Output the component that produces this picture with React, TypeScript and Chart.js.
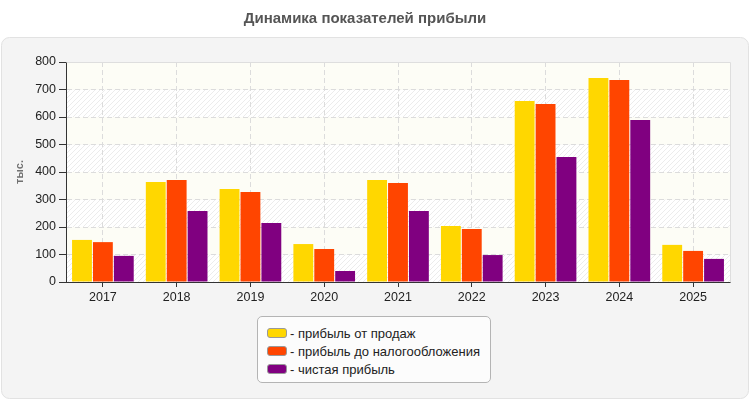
import React, { useEffect, useRef } from "react";
import { Chart, registerables } from "chart.js";

Chart.register(...registerables);

const categories = ["2017", "2018", "2019", "2020", "2021", "2022", "2023", "2024", "2025"];
const salesProfit = [153, 364, 338, 138, 371, 204, 658, 742, 135];
const preTaxProfit = [145, 371, 327, 120, 360, 193, 647, 735, 113];
const netProfit = [95, 258, 215, 40, 258, 98, 455, 589, 84];
const seriesLabels = ["- прибыль от продаж", "- прибыль до налогообложения", "- чистая прибыль"];
const seriesColors = ["#FFD700", "#FF4500", "#800080"];
const yTickValues = [0, 100, 200, 300, 400, 500, 600, 700, 800];
const chartTitle = "Динамика показателей прибыли";
const yAxisTitle = "тыс.";

const FONT = "Arial, 'Liberation Sans', sans-serif";

function makePattern(ctx: CanvasRenderingContext2D) {
  const c = document.createElement("canvas");
  const s = 5;
  c.width = s;
  c.height = s;
  const p = c.getContext("2d")!;
  p.fillStyle = "#ffffff";
  p.fillRect(0, 0, s, s);
  p.strokeStyle = "#ececec";
  p.lineWidth = 1;
  p.beginPath();
  p.moveTo(0, s);
  p.lineTo(s, 0);
  p.moveTo(-1, 1);
  p.lineTo(1, -1);
  p.moveTo(s - 1, s + 1);
  p.lineTo(s + 1, s - 1);
  p.stroke();
  return ctx.createPattern(c, "repeat")!;
}

function roundRect(ctx: CanvasRenderingContext2D, x: number, y: number, w: number, h: number, r: number) {
  ctx.beginPath();
  ctx.moveTo(x + r, y);
  ctx.lineTo(x + w - r, y);
  ctx.arcTo(x + w, y, x + w, y + r, r);
  ctx.lineTo(x + w, y + h - r);
  ctx.arcTo(x + w, y + h, x + w - r, y + h, r);
  ctx.lineTo(x + r, y + h);
  ctx.arcTo(x, y + h, x, y + h - r, r);
  ctx.lineTo(x, y + r);
  ctx.arcTo(x, y, x + r, y, r);
  ctx.closePath();
}

const backgroundPlugin = {
  id: "panelBackground",
  beforeDraw(chart: any) {
    const { ctx, chartArea, scales, width, height } = chart;
    ctx.save();
    ctx.fillStyle = "#ffffff";
    ctx.fillRect(0, 0, width, height);
    roundRect(ctx, 1.5, 37.5, width - 3, height - 39, 8);
    ctx.fillStyle = "#f4f4f4";
    ctx.fill();
    ctx.strokeStyle = "#e2e2e2";
    ctx.lineWidth = 1;
    ctx.stroke();
    const pattern = makePattern(ctx);
    const y = scales.y;
    for (let i = 0; i < yTickValues.length - 1; i++) {
      const top = y.getPixelForValue(yTickValues[i + 1]);
      const bottom = y.getPixelForValue(yTickValues[i]);
      ctx.fillStyle = i % 2 === 0 ? pattern : "#fdfdf6";
      ctx.fillRect(chartArea.left, top, chartArea.right - chartArea.left, bottom - top);
    }
    ctx.restore();
  },
  beforeDatasetsDraw(chart: any) {
    const { ctx, chartArea } = chart;
    ctx.save();
    ctx.strokeStyle = "#dedede";
    ctx.lineWidth = 1;
    ctx.beginPath();
    ctx.moveTo(Math.round(chartArea.left) + 0.5, Math.round(chartArea.top) + 0.5);
    ctx.lineTo(Math.round(chartArea.right) + 0.5, Math.round(chartArea.top) + 0.5);
    ctx.lineTo(Math.round(chartArea.right) + 0.5, Math.round(chartArea.bottom) + 0.5);
    ctx.stroke();
    ctx.restore();
  },
};

export default function App() {
  const canvasRef = useRef<HTMLCanvasElement | null>(null);

  useEffect(() => {
    if (!canvasRef.current) return;
    Chart.defaults.font.family = FONT;
    const seriesData = [salesProfit, preTaxProfit, netProfit];
    const chart = new Chart(canvasRef.current, {
      type: "bar",
      data: {
        labels: categories,
        datasets: seriesData.map((d, i) => ({
          label: seriesLabels[i],
          data: d,
          backgroundColor: seriesColors[i],
          borderWidth: 0,
          barPercentage: 0.95,
          categoryPercentage: 0.85,
        })),
      },
      options: {
        animation: false,
        responsive: false,
        maintainAspectRatio: false,
        layout: { padding: { left: 0, right: 20, top: 0, bottom: 0 } },
        plugins: {
          legend: { display: false },
          tooltip: { enabled: false },
          title: {
            display: true,
            text: chartTitle,
            color: "#555555",
            font: { size: 15, weight: "bold", family: FONT },
            padding: { top: 10, bottom: 34 },
          },
        },
        scales: {
          x: {
            offset: true,
            grid: {
              offset: false,
              color: "#dcdcdc",
              lineWidth: 1,
              drawTicks: true,
              tickLength: 5,
              tickColor: "#333333",
            },
            border: { display: true, color: "#333333", width: 1, dash: [5, 3] },
            ticks: { color: "#222222", font: { size: 12.5, family: FONT }, padding: 3 },
            afterFit: (scale: any) => {
              scale.height = 118;
            },
          },
          y: {
            min: 0,
            max: 800,
            ticks: { stepSize: 100, color: "#222222", font: { size: 12.5, family: FONT }, padding: 3 },
            grid: {
              color: "#dcdcdc",
              lineWidth: 1,
              drawTicks: true,
              tickLength: 7,
              tickColor: "#333333",
            },
            border: { display: true, color: "#333333", width: 1, dash: [5, 3] },
            title: {
              display: true,
              text: yAxisTitle,
              color: "#707070",
              font: { size: 11, weight: "bold", family: FONT },
              padding: { top: 13, bottom: 0 },
            },
            afterFit: (scale: any) => {
              scale.width = 66;
            },
          },
        },
      },
      plugins: [backgroundPlugin],
    });
    return () => chart.destroy();
  }, []);

  return (
    <div style={{ position: "absolute", left: 0, top: 0, width: 750, height: 400, fontFamily: FONT }}>
      <canvas ref={canvasRef} width={750} height={400} style={{ display: "block", width: 750, height: 400 }} />
      <div
        style={{
          position: "absolute",
          left: 257,
          top: 316,
          width: 232,
          height: 65,
          boxSizing: "content-box",
          border: "1px solid #b4b4b4",
          borderRadius: 5,
          background: "#fcfcfc",
        }}
      >
        {seriesLabels.map((label, i) => (
          <div
            key={label}
            style={{
              position: "absolute",
              left: 9,
              top: 8 + i * 18,
              height: 16,
              display: "flex",
              alignItems: "center",
              fontSize: 13,
              color: "#222",
              whiteSpace: "nowrap",
            }}
          >
            <span
              style={{
                display: "inline-block",
                width: 18,
                height: 8,
                background: seriesColors[i],
                border: "1px solid #999",
                borderRadius: 3,
                marginRight: 3,
              }}
            />
            <span>{label}</span>
          </div>
        ))}
      </div>
    </div>
  );
}
